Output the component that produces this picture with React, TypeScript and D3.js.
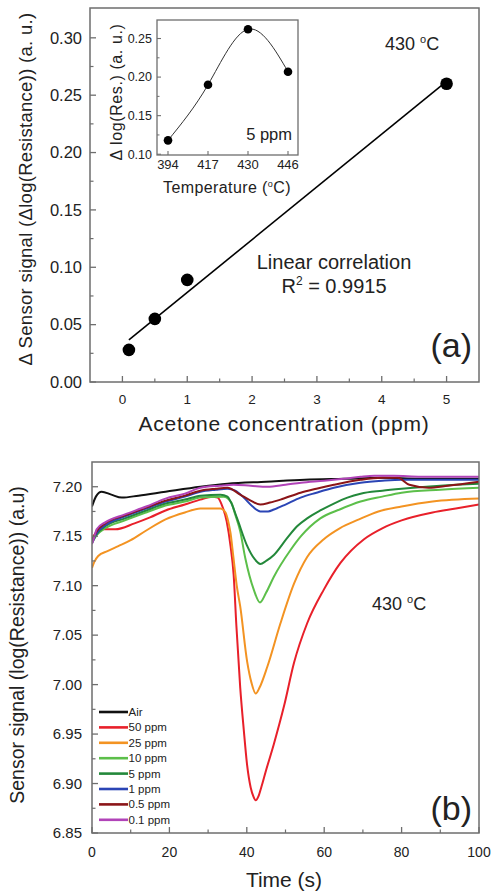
import React from "react";
import * as d3 from "d3";

// ---------- Panel (a): main ----------
const concPpm = [0.1, 0.5, 1, 5];
const deltaSignal = [0.028, 0.055, 0.089, 0.26];
const concTicks = [0, 1, 2, 3, 4, 5];
const concMinor = [0.5, 1.5, 2.5, 3.5, 4.5];
const deltaTicks = [0, 0.05, 0.1, 0.15, 0.2, 0.25, 0.3];
const deltaMinor = [0.025, 0.075, 0.125, 0.175, 0.225, 0.275];

// ---------- Panel (a): inset ----------
const insetTemps = ["394", "417", "430", "446"];
const insetSignal = [0.118, 0.19, 0.262, 0.207];
const insetTicks = [0.1, 0.15, 0.2, 0.25];
const insetMinor = [0.125, 0.175, 0.225];

// ---------- Panel (b) ----------
const timeTicks = [0, 20, 40, 60, 80, 100];
const timeMinor = [10, 30, 50, 70, 90];
const signalTicks = [6.85, 6.9, 6.95, 7.0, 7.05, 7.1, 7.15, 7.2];
const signalMinor = [6.875, 6.925, 6.975, 7.025, 7.075, 7.125, 7.175];

const airSeries: [number, number][] = [
  [0, 7.18], [1, 7.19], [2.5, 7.195], [5, 7.192], [7.7, 7.189], [12, 7.191], [19, 7.195],
  [28, 7.2], [35, 7.203], [45, 7.205], [55, 7.207], [65, 7.208], [75, 7.209], [85, 7.208], [100, 7.208],
];
const ppm50Series: [number, number][] = [
  [0, 7.148], [1, 7.153], [2.5, 7.157], [6, 7.157], [11, 7.163], [15, 7.169], [19, 7.176],
  [24, 7.182], [28, 7.187], [31, 7.19], [32.5, 7.189], [33.5, 7.182], [34.8, 7.165], [35.8, 7.14],
  [36.6, 7.111], [37.3, 7.06], [38.3, 6.997], [39.2, 6.955], [40.1, 6.918], [41.0, 6.896], [41.7, 6.887],
  [42.3, 6.883], [43.0, 6.887], [43.8, 6.897], [44.8, 6.911], [47, 6.94], [49.6, 6.978], [52.2, 7.022],
  [55.6, 7.062], [59.9, 7.096], [64.2, 7.123], [70.3, 7.147], [75, 7.158], [80, 7.166], [88, 7.174],
  [94, 7.178], [100, 7.182],
];
const ppm25Series: [number, number][] = [
  [0, 7.118], [0.6, 7.124], [1.6, 7.13], [4, 7.135], [6.8, 7.14], [10, 7.146], [13.7, 7.155],
  [19, 7.167], [24, 7.174], [28, 7.178], [33.2, 7.178], [34.5, 7.174], [35.2, 7.165], [35.8, 7.153],
  [36.5, 7.13], [37.4, 7.1], [38.3, 7.079], [40.1, 7.023], [41.2, 7.002], [42.3, 6.991], [43.3, 6.997],
  [45.3, 7.018], [48.7, 7.062], [52.2, 7.102], [55.6, 7.129], [59.9, 7.147], [64, 7.158], [69, 7.167],
  [74, 7.175], [80, 7.18], [88, 7.185], [100, 7.188],
];
const ppm10Series: [number, number][] = [
  [0, 7.143], [1.2, 7.151], [3.4, 7.158], [8.5, 7.166], [14, 7.174], [19, 7.181], [24, 7.185],
  [28, 7.189], [34, 7.19], [36, 7.184], [37, 7.172], [38.3, 7.155], [39.6, 7.128], [41.8, 7.096],
  [43.4, 7.083], [45, 7.093], [47, 7.109], [51.3, 7.136], [54, 7.15], [59, 7.168],
  [64, 7.177], [69.4, 7.185], [75, 7.19], [80, 7.194], [90, 7.197], [100, 7.199],
];
const ppm5Series: [number, number][] = [
  [0, 7.144], [1.2, 7.152], [3.4, 7.16], [8.5, 7.168], [14, 7.176], [19, 7.183], [24, 7.187],
  [28, 7.191], [33.2, 7.192], [35, 7.19], [35.8, 7.185], [37.5, 7.168], [40, 7.141], [42, 7.127],
  [43.5, 7.122], [45, 7.125], [47, 7.131], [50.4, 7.148], [53, 7.16], [55.6, 7.168], [59, 7.176],
  [62.5, 7.183], [66, 7.189], [69.4, 7.193], [75, 7.196], [80, 7.198], [90, 7.201], [100, 7.203],
];
const ppm1Series: [number, number][] = [
  [0, 7.143], [1.2, 7.153], [3.4, 7.161], [8.5, 7.17], [14, 7.178], [19, 7.185], [24, 7.19],
  [28, 7.195], [32, 7.197], [35, 7.198], [37, 7.196], [39.2, 7.189], [41.5, 7.18], [43.5, 7.175],
  [45.5, 7.175], [47, 7.177], [50, 7.182], [53.9, 7.189], [58, 7.194], [62.5, 7.199], [69.4, 7.204],
  [75, 7.206], [80, 7.207], [90, 7.207], [100, 7.207],
];
const ppm05Series: [number, number][] = [
  [0, 7.145], [1.2, 7.155], [3.4, 7.163], [8.5, 7.171], [14, 7.179], [19, 7.186], [24, 7.191],
  [28, 7.196], [32, 7.198], [35, 7.199], [38.3, 7.192], [41, 7.186], [43.5, 7.182], [46, 7.184],
  [48.7, 7.187], [53.9, 7.194], [58, 7.198], [62.5, 7.202], [69.4, 7.207], [75, 7.209], [79, 7.209],
  [82, 7.202], [87, 7.199], [92, 7.201], [100, 7.205],
];
const ppm01Series: [number, number][] = [
  [0, 7.142], [0.5, 7.148], [1.2, 7.157], [3.4, 7.164], [8.5, 7.172], [14, 7.18], [19, 7.188],
  [24, 7.193], [28, 7.199], [33, 7.201], [36.6, 7.202], [41, 7.201], [45.3, 7.2], [50, 7.202],
  [54, 7.204], [60, 7.206], [65, 7.208], [69.4, 7.21], [73, 7.211], [78, 7.211], [85, 7.21], [100, 7.21],
];

const seriesNames = ["Air", "50 ppm", "25 ppm", "10 ppm", "5 ppm", "1 ppm", "0.5 ppm", "0.1 ppm"];
const seriesColors = ["#111111", "#e8202a", "#f39322", "#5cbf4a", "#23883a", "#2b45b5", "#8b1518", "#b143b8"];
const seriesData = [airSeries, ppm50Series, ppm25Series, ppm10Series, ppm5Series, ppm1Series, ppm05Series, ppm01Series];

const FONT = "'Liberation Sans', Arial, Helvetica, sans-serif";
const FRAME = "#6e6e6e";

export default function App() {
  // scales
  const xA = d3.scaleLinear().domain([-0.5, 5.5]).range([90, 479]);
  const yA = d3.scaleLinear().domain([0, 0.326]).range([382, 8]);
  const xI = d3.scaleLinear().domain([-0.275, 3.25]).range([157, 298]);
  const yI = d3.scaleLinear().domain([0.099, 0.274]).range([155, 20]);
  const xB = d3.scaleLinear().domain([0, 100]).range([92, 479]);
  const yB = d3.scaleLinear().domain([6.85, 7.225]).range([833, 462]);

  // linear regression for fit line
  const mx = d3.mean(concPpm)!;
  const my = d3.mean(deltaSignal)!;
  const sxy = d3.sum(concPpm.map((x, i) => (x - mx) * (deltaSignal[i] - my)));
  const sxx = d3.sum(concPpm.map((x) => (x - mx) * (x - mx)));
  const slope = sxy / sxx;
  const icpt = my - slope * mx;
  const xmin = d3.min(concPpm)!;
  const xmax = d3.max(concPpm)!;

  const insetLine = d3
    .line<number>()
    .x((_, i) => xI(i))
    .y((d) => yI(d))
    .curve(d3.curveNatural);

  const seriesLine = d3
    .line<[number, number]>()
    .x((d) => xB(d[0]))
    .y((d) => yB(d[1]))
    .curve(d3.curveMonotoneX);

  const [a0, a1] = xA.range();
  const [b0] = yA.range();
  const aTop = yA.range()[1];
  const [ix0, ix1] = xI.range();
  const [iy0, iy1] = yI.range();
  const [bx0, bx1] = xB.range();
  const [by0, by1] = yB.range();

  return (
    <svg
      width={492}
      height={893}
      style={{ position: "absolute", left: 0, top: 0, background: "#fff" }}
      fontFamily={FONT}
    >
      <rect x={0} y={0} width={492} height={893} fill="#fff" />

      {/* ================= Panel (a) ================= */}
      <rect x={a0} y={aTop} width={a1 - a0} height={b0 - aTop} fill="none" stroke={FRAME} strokeWidth={1.5} />
      {deltaTicks.map((t) => (
        <g key={"ya" + t}>
          <line x1={a0} x2={a0 + 6} y1={yA(t)} y2={yA(t)} stroke={FRAME} strokeWidth={1.3} />
          <text x={82} y={yA(t)} dy="0.35em" textAnchor="end" fontSize={16.5} fill="#222">
            {t.toFixed(2)}
          </text>
        </g>
      ))}
      {deltaMinor.map((t) => (
        <line key={"yam" + t} x1={a0} x2={a0 + 3.5} y1={yA(t)} y2={yA(t)} stroke={FRAME} strokeWidth={1.2} />
      ))}
      {concTicks.map((t) => (
        <g key={"xa" + t}>
          <line x1={xA(t)} x2={xA(t)} y1={b0} y2={b0 - 6} stroke={FRAME} strokeWidth={1.3} />
          <text x={xA(t)} y={404} textAnchor="middle" fontSize={13.5} fill="#222">
            {t}
          </text>
        </g>
      ))}
      {concMinor.map((t) => (
        <line key={"xam" + t} x1={xA(t)} x2={xA(t)} y1={b0} y2={b0 - 3.5} stroke={FRAME} strokeWidth={1.2} />
      ))}
      <text x={284} y={431} textAnchor="middle" fontSize={21} letterSpacing={0.8} fill="#222">
        Acetone concentration (ppm)
      </text>
      <text
        transform={`translate(32, ${189}) rotate(-90)`}
        textAnchor="middle"
        fontSize={18.5}
        letterSpacing={0.3}
        fill="#222"
      >
        Δ Sensor signal (Δlog(Resistance)) (a. u.)
      </text>

      {/* fit line */}
      <line
        x1={xA(xmin)}
        y1={yA(icpt + slope * xmin)}
        x2={xA(xmax)}
        y2={yA(icpt + slope * xmax)}
        stroke="#000"
        strokeWidth={1.6}
      />
      {concPpm.map((c, i) => (
        <circle key={"pa" + i} cx={xA(c)} cy={yA(deltaSignal[i])} r={6.3} fill="#000" />
      ))}

      <text x={334} y={269} textAnchor="middle" fontSize={20} fill="#222">
        Linear correlation
      </text>
      <text x={334} y={293} textAnchor="middle" fontSize={20} fill="#222">
        R<tspan dy={-8} fontSize={12}>2</tspan>
        <tspan dy={8}> = 0.9915</tspan>
      </text>
      <text x={472} y={357} textAnchor="end" fontSize={34} fill="#222">
        (a)
      </text>
      <text x={385} y={50} fontSize={18} fill="#222">
        430 <tspan dy={-7} fontSize={11}>o</tspan>
        <tspan dy={7}>C</tspan>
      </text>

      {/* inset */}
      <rect x={ix0} y={iy1} width={ix1 - ix0} height={iy0 - iy1} fill="#fff" stroke={FRAME} strokeWidth={1.3} />
      {insetTicks.map((t) => (
        <g key={"yi" + t}>
          <line x1={ix0} x2={ix0 + 4} y1={yI(t)} y2={yI(t)} stroke={FRAME} strokeWidth={1.1} />
          <text x={152} y={yI(t)} dy="0.35em" textAnchor="end" fontSize={12.5} fill="#222">
            {t.toFixed(2)}
          </text>
        </g>
      ))}
      {insetMinor.map((t) => (
        <line key={"yim" + t} x1={ix0} x2={ix0 + 2.5} y1={yI(t)} y2={yI(t)} stroke={FRAME} strokeWidth={1} />
      ))}
      {insetTemps.map((t, i) => (
        <g key={"xi" + t}>
          <line x1={xI(i)} x2={xI(i)} y1={iy0} y2={iy0 - 4} stroke={FRAME} strokeWidth={1.1} />
          <text x={xI(i)} y={169} textAnchor="middle" fontSize={13} fill="#222">
            {t}
          </text>
        </g>
      ))}
      <text x={227} y={193} textAnchor="middle" fontSize={16} letterSpacing={0.4} fill="#222">
        Temperature (<tspan dy={-6} fontSize={9}>o</tspan>
        <tspan dy={6}>C)</tspan>
      </text>
      <text
        transform={`translate(122, ${92}) rotate(-90)`}
        textAnchor="middle"
        fontSize={16}
        letterSpacing={0.6}
        fill="#222"
      >
        Δ log(Res.) (a. u.)
      </text>
      <path d={insetLine(insetSignal) || ""} fill="none" stroke="#333" strokeWidth={1} />
      {insetSignal.map((v, i) => (
        <circle key={"pi" + i} cx={xI(i)} cy={yI(v)} r={4.3} fill="#000" />
      ))}
      <text x={292} y={140} textAnchor="end" fontSize={16.5} fill="#222">
        5 ppm
      </text>

      {/* ================= Panel (b) ================= */}
      <defs>
        <clipPath id="clipB">
          <rect x={bx0} y={by1} width={bx1 - bx0} height={by0 - by1} />
        </clipPath>
      </defs>
      <g clipPath="url(#clipB)">
        {seriesData.map((s, i) => (
          <path
            key={"s" + i}
            d={seriesLine(s) || ""}
            fill="none"
            stroke={seriesColors[i]}
            strokeWidth={2}
            strokeLinejoin="round"
          />
        ))}
      </g>
      <rect x={bx0} y={by1} width={bx1 - bx0} height={by0 - by1} fill="none" stroke={FRAME} strokeWidth={1.5} />
      {signalTicks.map((t) => (
        <g key={"yb" + t}>
          <line x1={bx0} x2={bx0 + 6} y1={yB(t)} y2={yB(t)} stroke={FRAME} strokeWidth={1.3} />
          <text x={82} y={yB(t)} dy="0.35em" textAnchor="end" fontSize={15} fill="#222">
            {t.toFixed(2)}
          </text>
        </g>
      ))}
      {signalMinor.map((t) => (
        <line key={"ybm" + t} x1={bx0} x2={bx0 + 3.5} y1={yB(t)} y2={yB(t)} stroke={FRAME} strokeWidth={1.2} />
      ))}
      {timeTicks.map((t) => (
        <g key={"xb" + t}>
          <line x1={xB(t)} x2={xB(t)} y1={by0} y2={by0 - 6} stroke={FRAME} strokeWidth={1.3} />
          <text x={xB(t)} y={857} textAnchor="middle" fontSize={14} fill="#222">
            {t}
          </text>
        </g>
      ))}
      {timeMinor.map((t) => (
        <line key={"xbm" + t} x1={xB(t)} x2={xB(t)} y1={by0} y2={by0 - 3.5} stroke={FRAME} strokeWidth={1.2} />
      ))}
      <text x={284} y={887} textAnchor="middle" fontSize={21} fill="#222">
        Time (s)
      </text>
      <text
        transform={`translate(24, ${645}) rotate(-90)`}
        textAnchor="middle"
        fontSize={19.5}
        fill="#222"
      >
        Sensor signal (log(Resistance)) (a.u)
      </text>
      <text x={372} y={610} fontSize={18} fill="#222">
        430 <tspan dy={-7} fontSize={11}>o</tspan>
        <tspan dy={7}>C</tspan>
      </text>
      <text x={472} y={820} textAnchor="end" fontSize={34} fill="#222">
        (b)
      </text>

      {/* legend */}
      {seriesNames.map((n, i) => {
        const y = 712 + i * 15.4;
        return (
          <g key={"lg" + n}>
            <line x1={99} x2={128} y1={y} y2={y} stroke={seriesColors[i]} strokeWidth={2.6} />
            <text x={128.5} y={y} dy="0.35em" fontSize={11.5} fill="#222">
              {n}
            </text>
          </g>
        );
      })}
    </svg>
  );
}
